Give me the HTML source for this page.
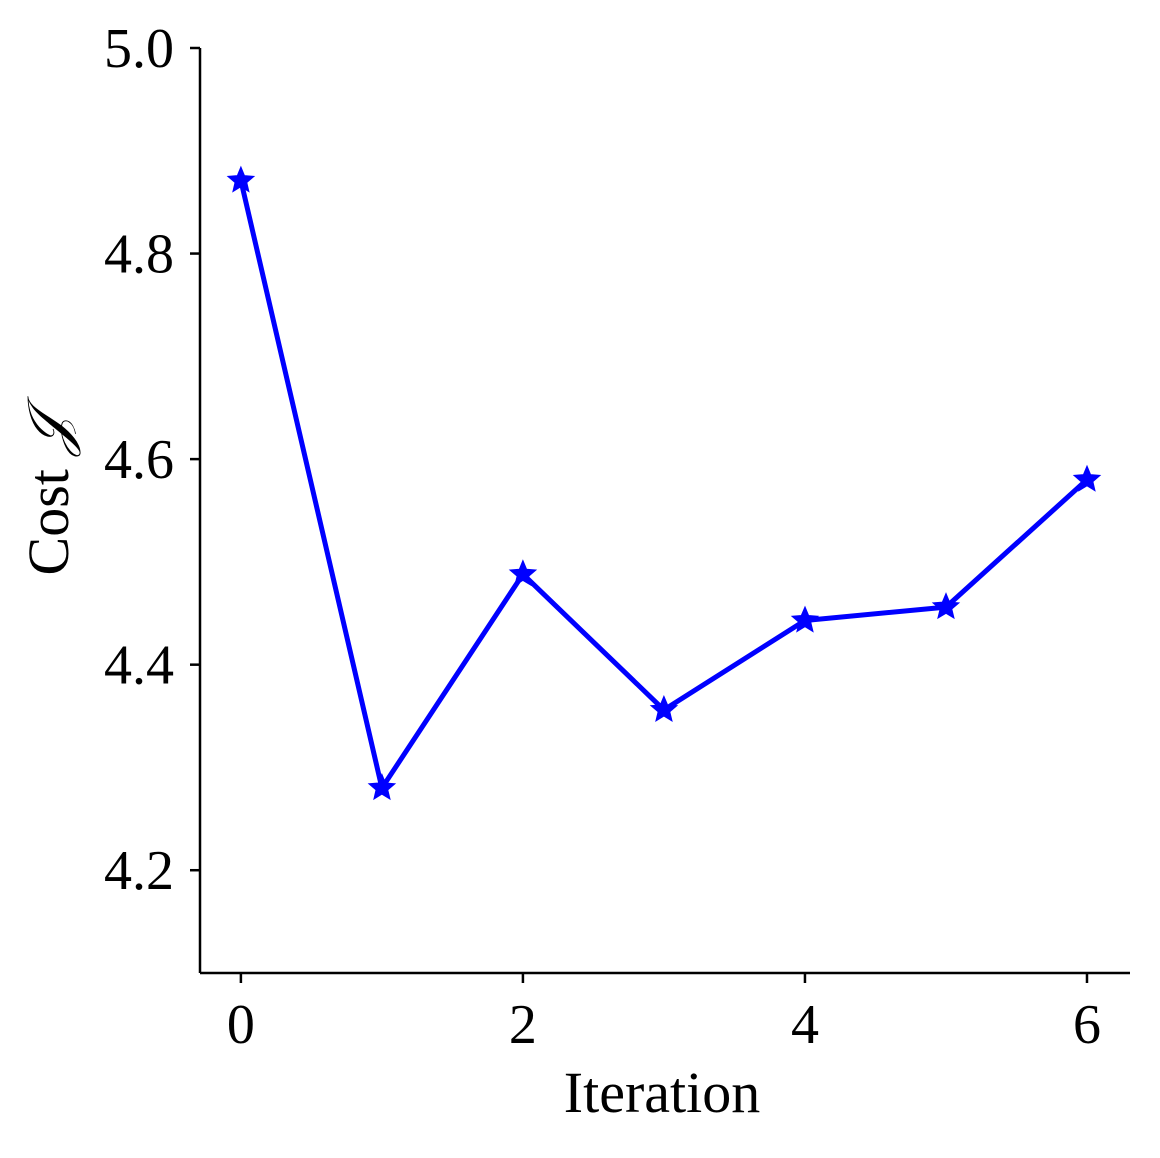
<!DOCTYPE html>
<html><head><meta charset="utf-8"><style>
html,body{margin:0;padding:0;background:#fff;}
svg text{font-family:"Liberation Serif",serif;fill:#000;}
</style></head><body>
<svg id="chart" width="1160" height="1153" viewBox="0 0 1160 1153" xmlns="http://www.w3.org/2000/svg"></svg>
<script>
const iterations = [0, 1, 2, 3, 4, 5, 6];
const costValues = [4.871, 4.280, 4.488, 4.356, 4.443, 4.456, 4.580];
const xTicks = [0, 2, 4, 6];
const xTickLabels = ["0", "2", "4", "6"];
const yTicks = [4.2, 4.4, 4.6, 4.8, 5.0];
const yTickLabels = ["4.2", "4.4", "4.6", "4.8", "5.0"];

const L = 200, R = 1130, T = 48, B = 973;
const xMin = -0.29, xMax = 6.305, yMin = 4.1, yMax = 5.0;
const sx = v => L + (v - xMin) / (xMax - xMin) * (R - L);
const sy = v => B - (v - yMin) / (yMax - yMin) * (B - T);
const NS = "http://www.w3.org/2000/svg";
const svg = document.getElementById('chart');
function mk(tag, attrs, parent) {
  const e = document.createElementNS(NS, tag);
  for (const k in attrs) e.setAttribute(k, attrs[k]);
  (parent || svg).appendChild(e);
  return e;
}
let ax = mk('line', {x1: L, y1: B, x2: R, y2: B, stroke: '#000', 'stroke-width': 2.5});


let ay = mk('line', {x1: L, y1: T, x2: L, y2: B, stroke: '#000', 'stroke-width': 2.5});


xTicks.forEach((t, i) => {
  const x = sx(t);
  const tk = mk('line', {x1: x, y1: B, x2: x, y2: B + 10, stroke: '#000', 'stroke-width': 2.5});
  
  
  const tx = mk('text', {x: x, y: B + 70, 'font-size': 56, 'text-anchor': 'middle'});
  tx.textContent = xTickLabels[i];
  
  
});
yTicks.forEach((t, i) => {
  const y = sy(t);
  const tk = mk('line', {x1: L - 10, y1: y, x2: L, y2: y, stroke: '#000', 'stroke-width': 2.5});
  
  
  const tx = mk('text', {x: L - 26, y: y + 19, 'font-size': 56, 'text-anchor': 'end'});
  tx.textContent = yTickLabels[i];
  
  
});
const xl = mk('text', {x: 662, y: 1112, 'font-size': 58, 'text-anchor': 'middle'});
xl.textContent = 'Iteration';


const yl = mk('text', {x: 0, y: 0, 'font-size': 58, 'text-anchor': 'middle', transform: 'translate(68,495) rotate(-90)'});
yl.innerHTML = 'Cost <tspan font-style="italic">𝒥</tspan>';


const pts = iterations.map((v, i) => sx(v) + ',' + sy(costValues[i])).join(' ');
const pl = mk('polyline', {points: pts, fill: 'none', stroke: '#0000ff', 'stroke-width': 5, 'stroke-linejoin': 'round'});


function star(cx, cy, r) {
  let p = [];
  for (let k = 0; k < 10; k++) {
    const a = -Math.PI / 2 + k * Math.PI / 5;
    const rr = k % 2 ? r * 0.45 : r;
    p.push((cx + rr * Math.cos(a)).toFixed(1) + ',' + (cy + rr * Math.sin(a)).toFixed(1));
  }
  return p.join(' ');
}
iterations.forEach((v, i) => {
  const m = mk('polygon', {points: star(sx(v), sy(costValues[i]), 13), fill: '#0000ff', stroke: '#0000ff', 'stroke-width': 1.5});
  
  
});
</script>
</body></html>
